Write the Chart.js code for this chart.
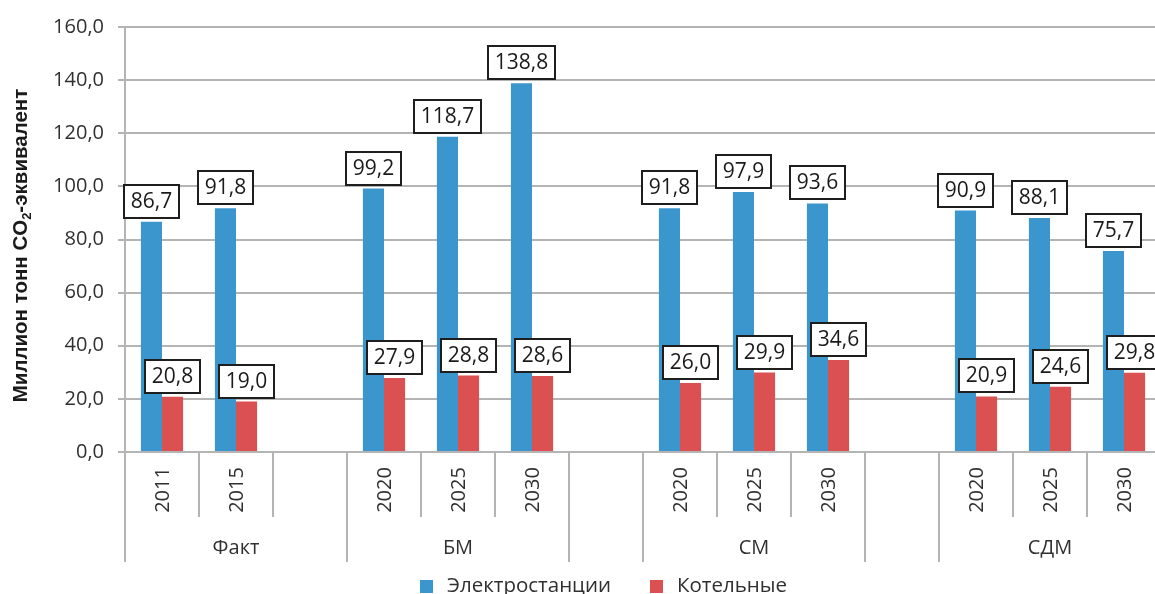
<!DOCTYPE html>
<html>
<head>
<meta charset="utf-8">
<script src="https://cdn.jsdelivr.net/npm/chart.js@4"></script>
<style>
  html, body { margin: 0; padding: 0; background: #ffffff; overflow: hidden; }
  #wrap { position: absolute; left: 0; top: 0; width: 1172px; height: 594px; }
</style>
</head>
<body>
<div id="wrap"><canvas id="c" width="1172" height="594"></canvas></div>
<script>
// Categories: years inside each scenario, empty slots separate the scenarios
const years = ['2011', '2015', '', '2020', '2025', '2030', '', '2020', '2025', '2030', '', '2020', '2025', '2030'];
const scenarios = ['Факт', 'БМ', 'СМ', 'СДМ'];
const scenarioFirst = [0, 3, 7, 11];
const scenarioLast = [2, 5, 9, 13];

// Emissions, million tonnes CO2-equivalent
const powerPlants = [86.7, 91.8, null, 99.2, 118.7, 138.8, null, 91.8, 97.9, 93.6, null, 90.9, 88.1, 75.7];
const boilerHouses = [20.8, 19.0, null, 27.9, 28.8, 28.6, null, 26.0, 29.9, 34.6, null, 20.9, 24.6, 29.8];

const seriesNames = ['Электростанции', 'Котельные'];
// axis title pieces: plain, subscript, plain
const yAxisTitle = ['Миллион тонн CO', '2', '-эквивалент'];
const yMin = 0, yMax = 160, yStep = 20;

const FONT = '"Open Sans", "Noto Sans", sans-serif';
const TITLE_FONT = '"Liberation Sans", Arial, sans-serif';
const TEXT = '#303030';
const GRID = '#b4b4b4';
const fmt = v => v.toFixed(1).replace('.', ',');

function scenarioOf(i) {
  for (let s = 0; s < scenarios.length; s++) {
    if (i >= scenarioFirst[s] && i <= scenarioLast[s]) return s;
  }
  return -100 - i;
}

// Boxed value labels above each bar
const boxedLabels = {
  id: 'boxedLabels',
  afterDatasetsDraw(chart) {
    const ctx = chart.ctx;
    ctx.save();
    ctx.font = '21px ' + FONT;
    ctx.textAlign = 'center';
    ctx.textBaseline = 'middle';
    chart.data.datasets.forEach((ds, di) => {
      const meta = chart.getDatasetMeta(di);
      meta.data.forEach((el, i) => {
        const v = ds.data[i];
        if (v === null || v === undefined) return;
        const txt = fmt(v);
        const tw = ctx.measureText(txt).width;
        const bw = Math.round(tw + 14), bh = 33;
        const bx = Math.round(el.x - bw / 2);
        const by = Math.round(el.y - 4 - bh);
        ctx.fillStyle = '#ffffff';
        ctx.fillRect(bx, by, bw, bh);
        ctx.lineWidth = 2;
        ctx.strokeStyle = '#1e1e1e';
        ctx.strokeRect(bx, by, bw, bh);
        ctx.fillStyle = '#1a1a1a';
        ctx.fillText(txt, bx + bw / 2, by + bh / 2 + 1);
      });
    });
    ctx.restore();
  }
};

// Rotated y-axis title with a subscript
const axisTitle = {
  id: 'axisTitle',
  afterDraw(chart) {
    const ctx = chart.ctx;
    const big = 'bold 20.5px ' + TITLE_FONT;
    const small = 'bold 13px ' + TITLE_FONT;
    ctx.save();
    const widths = yAxisTitle.map((t, k) => { ctx.font = k === 1 ? small : big; return ctx.measureText(t).width; });
    const total = widths.reduce((a, b) => a + b, 0);
    const cy = (chart.chartArea.top + chart.chartArea.bottom) / 2 + 6;
    ctx.translate(21, cy);
    ctx.rotate(-Math.PI / 2);
    ctx.fillStyle = '#1a1a1a';
    ctx.textAlign = 'left';
    ctx.textBaseline = 'middle';
    let x = -total / 2;
    yAxisTitle.forEach((t, k) => {
      ctx.font = k === 1 ? small : big;
      ctx.fillText(t, x, k === 1 ? 6 : 0);
      x += widths[k];
    });
    ctx.restore();
  }
};

// Two-level category axis (years, then scenarios) and the legend
const tieredAxis = {
  id: 'tieredAxis',
  afterDraw(chart) {
    const ctx = chart.ctx;
    const xs = chart.scales.x;
    const n = years.length;
    const w = (xs.right - xs.left) / n;
    const base = chart.chartArea.bottom;
    ctx.save();
    ctx.strokeStyle = GRID;
    ctx.lineWidth = 2;
    for (let i = 0; i <= n; i++) {
      const x = Math.round(xs.left + i * w);
      const tall = i === 0 || i === n || scenarioOf(i - 1) !== scenarioOf(i);
      ctx.beginPath();
      ctx.moveTo(x, base);
      ctx.lineTo(x, base + (tall ? 110 : 65));
      ctx.stroke();
    }
    ctx.fillStyle = TEXT;
    ctx.font = '20px ' + FONT;
    ctx.textAlign = 'center';
    ctx.textBaseline = 'middle';
    years.forEach((y, i) => {
      if (!y) return;
      const cx = xs.getPixelForValue(i);
      ctx.save();
      ctx.translate(cx + 1, base + 38);
      ctx.rotate(-Math.PI / 2);
      ctx.fillText(y, 0, 0);
      ctx.restore();
    });
    scenarios.forEach((s, k) => {
      const cx = (xs.getPixelForValue(scenarioFirst[k]) + xs.getPixelForValue(scenarioLast[k])) / 2;
      ctx.fillText(s, cx, base + 96);
    });
    // legend
    const legendX = [420, 650];
    chart.data.datasets.forEach((ds, di) => {
      ctx.fillStyle = ds.backgroundColor;
      ctx.fillRect(legendX[di], 580, 13, 13);
      ctx.fillStyle = TEXT;
      ctx.textAlign = 'left';
      ctx.font = '20.5px ' + FONT;
      ctx.fillText(ds.label, legendX[di] + 27, 586);
    });
    ctx.restore();
  }
};

new Chart(document.getElementById('c'), {
  type: 'bar',
  data: {
    labels: years,
    datasets: [
      { label: seriesNames[0], data: powerPlants, backgroundColor: '#3c96ce' },
      { label: seriesNames[1], data: boilerHouses, backgroundColor: '#db5050' }
    ]
  },
  options: {
    responsive: false,
    animation: false,
    devicePixelRatio: 1,
    layout: { padding: { left: 0, right: 11, top: 27, bottom: 142 } },
    datasets: { bar: { categoryPercentage: 0.57, barPercentage: 1.0 } },
    plugins: { legend: { display: false }, tooltip: { enabled: false } },
    scales: {
      x: {
        type: 'category',
        offset: true,
        grid: { display: false },
        ticks: { display: false },
        border: { display: true, color: GRID, width: 2 },
        afterFit(scale) { scale.height = 0; }
      },
      y: {
        min: yMin,
        max: yMax,
        ticks: {
          stepSize: yStep,
          color: TEXT,
          font: { family: FONT, size: 20 },
          padding: 14,
          callback: v => fmt(v)
        },
        grid: { color: GRID, lineWidth: 2, tickLength: 7 },
        border: { display: true, color: GRID, width: 2 },
        afterFit(scale) { scale.width = 125; }
      }
    }
  },
  plugins: [boxedLabels, axisTitle, tieredAxis]
});
</script>
</body>
</html>
